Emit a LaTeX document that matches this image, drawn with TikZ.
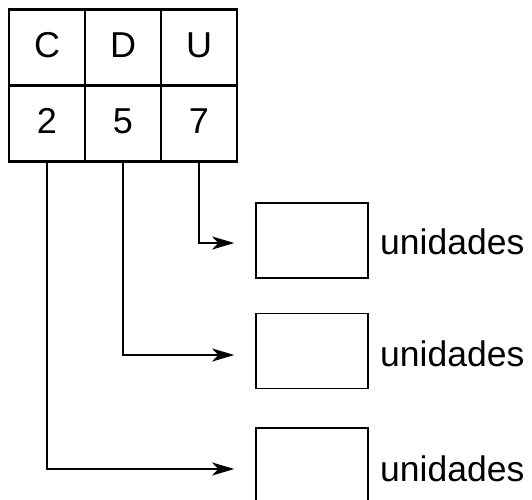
\documentclass[tikz,border=0pt]{standalone}
\usepackage{fontspec}
\setmainfont{Liberation Sans}
\usetikzlibrary{arrows.meta}
\begin{document}
\begin{tikzpicture}[x=1pt,y=1pt,
  cell/.style={draw,line width=2.6pt,minimum width=76pt,minimum height=75.5pt,inner sep=0pt,
    text height=26pt,text depth=7pt,font=\fontsize{36}{42}\selectfont},
  ansbox/.style={draw,line width=1.6pt,minimum width=112pt,minimum height=75pt,inner sep=0pt},
  lbl/.style={anchor=base west,inner sep=0pt,font=\fontsize{35.5}{42}\selectfont},
  conn/.style={line width=2.6pt,-{Stealth[length=22pt,width=13pt,inset=6pt]},shorten >=21pt}]
\useasboundingbox (0,0) rectangle (532,-499);
\clip (0,0) rectangle (532,-499);
\node[cell] (hc) at (47,-47.5) {C};
\node[cell] (hd) at (123,-47.5) {D};
\node[cell] (hu) at (199,-47.5) {U};
\node[cell] (vc) at (47,-123.5) {2};
\node[cell] (vd) at (123,-123.5) {5};
\node[cell] (vu) at (199,-123.5) {7};
\node[ansbox] (b1) at (312,-240.5) {};
\node[ansbox] (b2) at (312,-351) {};
\node[ansbox] (b3) at (312,-465.5) {};
\node[lbl] (l1) at (380,-254) {unidades};
\node[lbl] (l2) at (380,-366) {unidades};
\node[lbl] (l3) at (380,-481) {unidades};
\draw[conn] (vu.south) |- ([yshift=-2.5pt]b1.west);
\draw[conn] (vd.south) |- ([yshift=-4pt]b2.west);
\draw[conn] (vc.south) |- ([yshift=-3.5pt]b3.west);
\end{tikzpicture}
\end{document}
